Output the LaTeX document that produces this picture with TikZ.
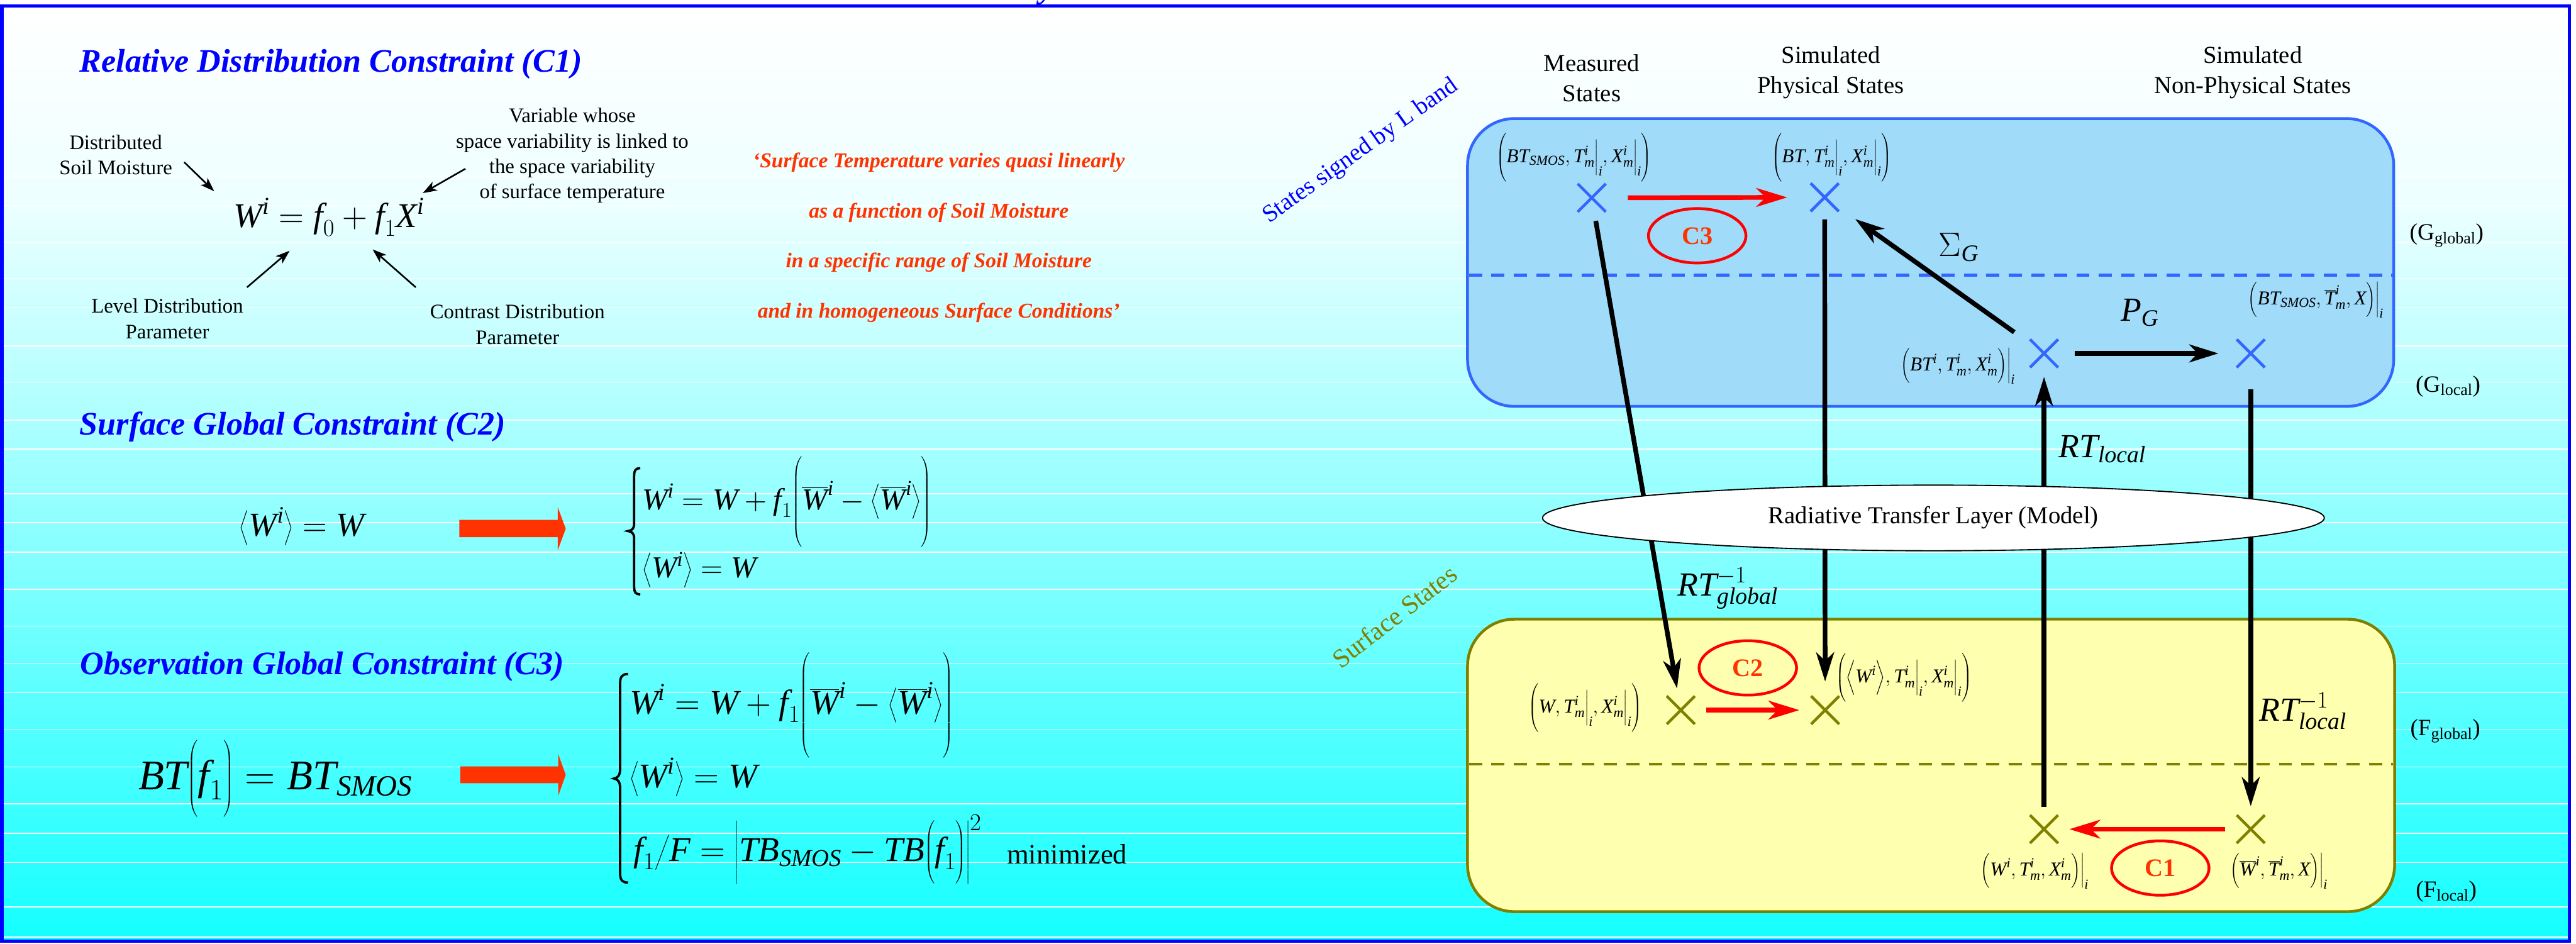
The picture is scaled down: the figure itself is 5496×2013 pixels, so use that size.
\RequirePackage{fix-cm}
\documentclass[tikz,border=0pt]{standalone}
\usepackage{amsmath}
\usepackage{fontspec}
\setmainfont{Liberation Serif}
\usetikzlibrary{arrows.meta,shapes.geometric,shapes.misc}
\definecolor{ttlblue}{RGB}{0,0,255}
\definecolor{qred}{RGB}{255,51,0}
\definecolor{boxblue}{RGB}{160,219,250}
\definecolor{edgeblue}{RGB}{51,102,255}
\definecolor{boxyel}{RGB}{255,255,176}
\definecolor{olivec}{RGB}{128,128,0}
\definecolor{cyA}{RGB}{238,255,255}
\definecolor{cyB}{RGB}{145,255,255}
\definecolor{cyC}{RGB}{20,255,255}
\newcommand{\mv}[1]{\text{\itshape #1}}
\newcommand{\fs}[2]{\fontsize{#1}{#2}\selectfont}
\tikzset{
  every node/.style={inner sep=0pt},
  ttl/.style={anchor=base west, text=ttlblue, font=\fs{70}{84}\bfseries\itshape},
  notetxt/.style={align=center, font=\fs{44}{54}},
  quotetxt/.style={align=center, text=qred, font=\fs{45}{107}\bfseries\itshape},
  thinarr/.style={line width=3.5pt, -{Stealth[length=30pt,width=21pt,inset=8pt]}},
  blockarr/.style={fill=qred},
  hdr/.style={align=center, font=\fs{52}{64}},
  gboxst/.style={draw=edgeblue, fill=boxblue, line width=6pt, rounded corners=100pt, minimum width=1976pt, minimum height=614pt},
  fboxst/.style={draw=olivec, fill=boxyel, line width=6pt, rounded corners=100pt, minimum width=1978pt, minimum height=624pt},
  xg/.style={draw=edgeblue, cross out, line width=6pt, minimum size=54pt},
  xf/.style={draw=olivec, cross out, line width=6pt, minimum size=54pt},
  lbl/.style={font=\fs{42}{50}},
  opl/.style={font=\fs{72}{86}},
  blk/.style={draw=black, line width=10pt, -{Stealth[length=62pt,width=38pt,inset=18pt]}},
  redarr/.style={draw=red, line width=10pt, -{Stealth[length=66pt,width=40pt,inset=20pt]}},
  cell/.style={ellipse, draw=red, line width=6pt, minimum width=208pt, minimum height=116pt, text=qred, font=\fs{54}{64}\bfseries},
  sidelbl/.style={font=\fs{50}{60}},
  bracest/.style={line width=5pt},
}
\begin{document}
\begin{tikzpicture}[x=1pt,y=-1pt]
% background
\path[use as bounding box, fill=white] (0,0) rectangle (5496,2013);
\shade[top color=white, bottom color=cyA] (4,13) rectangle (5482,420);
\shade[top color=cyA, middle color=cyB, bottom color=cyC] (4,420) rectangle (5482,2008);
\foreach \yy in {376,439,517,594,657,738,815,896,958,1053,1115,1178,1257,1336,1415,1478,1557,1636,1715,1778,1840,1935,1999}
  \draw[white, line width=2pt] (8,\yy) -- (5478,\yy);
\node[anchor=base west, text=ttlblue, font=\fs{70}{84}\bfseries\itshape] (cut) at (2218,-5) {y};
\draw[ttlblue, line width=7pt] (4,13) rectangle (5482,2008);

% ---------- C1 ----------
\node[ttl] (t1) at (170,153) {Relative Distribution Constraint (C1)};
\node[notetxt] (n1) at (247,330) {Distributed\\Soil Moisture};
\node[notetxt] (n2) at (1221,332) {Variable whose\\space variability is linked to\\the space variability\\of surface temperature};
\node[notetxt] (n3) at (357,680) {Level Distribution\\Parameter};
\node[notetxt] (n4) at (1104,692) {Contrast Distribution\\Parameter};
\node[anchor=base west, font=\fs{74}{86}] (eq1) at (498,485) {$\mv{W}^{\mv{i}} = \mv{f}_{0} + \mv{f}_{1}\mv{X}^{\mv{i}}$};
\coordinate (a1s) at (393,346); \coordinate (a1e) at (457,408);
\coordinate (a2s) at (993,360); \coordinate (a2e) at (902,412);
\coordinate (a3s) at (527,613); \coordinate (a3e) at (618,535);
\coordinate (a4s) at (887,613); \coordinate (a4e) at (795,532);
\draw[thinarr] (a1s) -- (a1e);
\draw[thinarr] (a2s) -- (a2e);
\draw[thinarr] (a3s) -- (a3e);
\draw[thinarr] (a4s) -- (a4e);
\node[quotetxt] (q) at (2003,507) {`Surface Temperature varies quasi linearly\\as a function of Soil Moisture\\in a specific range of Soil Moisture\\and in homogeneous Surface Conditions'};

% ---------- C2 ----------
\node[ttl] (t2) at (170,928) {Surface Global Constraint (C2)};
\node[anchor=base west, font=\fs{72}{86}] (eq2) at (511,1144) {$\bigg\langle \mv{W}^{\mv{i}}\bigg\rangle = \mv{W}$};
\fill[blockarr] (980,1109) -- (1190,1109) -- (1190,1082) -- (1207,1128) -- (1190,1174) -- (1190,1146) -- (980,1146) -- cycle;
\draw[bracest] (1366,999) .. controls (1356,999) and (1353,1003) .. (1353,1015) -- (1353,1117) .. controls (1353,1128) and (1348,1132) .. (1340,1133) .. controls (1348,1134) and (1353,1138) .. (1353,1149) -- (1353,1252) .. controls (1353,1264) and (1356,1268) .. (1366,1268);
\node[anchor=base west, font=\fs{65}{78}] (s2a) at (1370,1087) {$\mv{W}^{\mv{i}} = \mv{W} + \mv{f}_{1}\Bigg(\overline{\mv{W}}^{\mv{i}} - \bigg\langle\overline{\mv{W}}^{\mv{i}}\bigg\rangle\Bigg)$};
\node[anchor=base west, font=\fs{65}{78}] (s2b) at (1370,1233) {$\bigg\langle\mv{W}^{\mv{i}}\bigg\rangle = \mv{W}$};

% ---------- C3 ----------
\node[ttl] (t3) at (171,1439) {Observation Global Constraint (C3)};
\node[anchor=base west, font=\fs{90}{108}] (eq3) at (295,1684) {$\mv{BT}\Big(\mv{f}_{1}\Big) = \mv{BT}_{\mv{SMOS}}$};
\fill[blockarr] (982,1635) -- (1191,1635) -- (1191,1609) -- (1207,1653) -- (1191,1698) -- (1191,1671) -- (982,1671) -- cycle;
\draw[bracest] (1340,1438) .. controls (1328,1438) and (1323,1443) .. (1323,1458) -- (1323,1641) .. controls (1323,1654) and (1318,1660) .. (1310,1661) .. controls (1318,1662) and (1323,1668) .. (1323,1681) -- (1323,1863) .. controls (1323,1878) and (1328,1883) .. (1340,1883);
\node[anchor=base west, font=\fs{74}{88}] (s3a) at (1343,1523) {$\mv{W}^{\mv{i}} = \mv{W} + \mv{f}_{1}\Bigg(\overline{\mv{W}}^{\mv{i}} - \bigg\langle\overline{\mv{W}}^{\mv{i}}\bigg\rangle\Bigg)$};
\node[anchor=base west, font=\fs{74}{88}] (s3b) at (1343,1680) {$\bigg\langle\mv{W}^{\mv{i}}\bigg\rangle = \mv{W}$};
\node[anchor=base west, font=\fs{74}{88}] (s3c) at (1352,1837) {$\mv{f}_{1}\Big/\mv{F} = \Big|\mv{TB}_{\mv{SMOS}} - \mv{TB}\Big(\mv{f}_{1}\Big)\Big|^{2}$};
\node[anchor=base west, font=\fs{60}{72}] (mini) at (2148,1843) {minimized};

% ---------- right diagram ----------
\node[rotate=35.4, text=ttlblue, font=\fs{52}{62}] (slb) at (2903,323) {States signed by L band};
\node[rotate=37.7, text=olivec, font=\fs{56}{66}] (sss) at (2975,1315) {Surface States};
\node[hdr] (h1) at (3396,167) {Measured\\States};
\node[hdr] (h2) at (3906,155) {Simulated\\Physical States};
\node[hdr] (h3) at (4806,155) {Simulated\\Non-Physical States};

\node[gboxst] (G) at (4119,560) {};
\node[fboxst] (F) at (4120,1633) {};
\draw[edgeblue, line width=6pt, dash pattern=on 28pt off 20pt] (3134,587) -- (5104,587);
\draw[olivec, line width=6pt, dash pattern=on 28pt off 20pt] (3134,1630) -- (5106,1630);

\node[xg] (mG) at (3396,422) {};
\node[xg] (pG) at (3893,421) {};
\node[xg] (lG) at (4361,754) {};
\node[xg] (nG) at (4802,754) {};
\node[xf] (mF) at (3586,1515) {};
\node[xf] (pF) at (3894,1515) {};
\node[xf] (lF) at (4361,1769) {};
\node[xf] (nF) at (4802,1769) {};

% black connectors
\draw[blk, shorten <=50pt, shorten >=47pt] (mG.center) -- (mF.center);
\draw[blk, shorten <=47pt, shorten >=61pt] (pG.center) -- (pF.center);
\draw[blk, shorten <=78pt, shorten >=80pt] (lG.center) -- (pG.center);
\draw[blk, shorten <=66pt, shorten >=69pt] (lG.center) -- (nG.center);
\draw[blk, shorten <=47pt, shorten >=50pt] (lF.center) -- (lG.center);
\draw[blk, shorten <=76pt, shorten >=49pt] (nG.center) -- (nF.center);

\node[ellipse, draw=black, line width=2.5pt, fill=white, minimum width=1668pt, minimum height=140pt, font=\fs{52}{62}] (rtl) at (4125,1105) {Radiative Transfer Layer (Model)};

% red connectors
\draw[redarr, shorten <=77pt, shorten >=80pt] (mG.center) -- (pG.center);
\draw[redarr, shorten <=54pt, shorten >=55pt] (mF.center) -- (pF.center);
\draw[redarr, shorten <=55pt, shorten >=54pt] (nF.center) -- (lF.center);
\node[cell] (c3) at (3621,503) {C3};
\node[cell] (c2) at (3729,1425) {C2};
\node[cell] (c1) at (4609,1852) {C1};

% state labels
\node[lbl] (L1) at (3358,336) {$\bigg(\mv{BT}_{\mv{SMOS}}, \mv{T}^{\mv{i}}_{\mv{m}}\Big|_{\mv{i}}, \mv{X}^{\mv{i}}_{\mv{m}}\Big|_{\mv{i}}\bigg)$};
\node[lbl] (L2) at (3908,336) {$\bigg(\mv{BT}, \mv{T}^{\mv{i}}_{\mv{m}}\Big|_{\mv{i}}, \mv{X}^{\mv{i}}_{\mv{m}}\Big|_{\mv{i}}\bigg)$};
\node[lbl] (L3) at (4177,781) {$\Big(\mv{BT}^{\mv{i}}, \mv{T}^{\mv{i}}_{\mv{m}}, \mv{X}^{\mv{i}}_{\mv{m}}\Big)\Big|_{\mv{i}}$};
\node[lbl] (L4) at (4941,640) {$\Big(\mv{BT}_{\mv{SMOS}}, \overline{\mv{T}}^{\mv{i}}_{\mv{m}}, \mv{X}\Big)\Big|_{\mv{i}}$};
\node[lbl] (L5) at (3382,1510) {$\bigg(\mv{W}, \mv{T}^{\mv{i}}_{\mv{m}}\Big|_{\mv{i}}, \mv{X}^{\mv{i}}_{\mv{m}}\Big|_{\mv{i}}\bigg)$};
\node[lbl] (L6) at (4062,1446) {$\bigg(\Big\langle\mv{W}^{\mv{i}}\Big\rangle, \mv{T}^{\mv{i}}_{\mv{m}}\Big|_{\mv{i}}, \mv{X}^{\mv{i}}_{\mv{m}}\Big|_{\mv{i}}\bigg)$};
\node[lbl] (L7) at (4341,1858) {$\Big(\mv{W}^{\mv{i}}, \mv{T}^{\mv{i}}_{\mv{m}}, \mv{X}^{\mv{i}}_{\mv{m}}\Big)\Big|_{\mv{i}}$};
\node[lbl] (L8) at (4862,1858) {$\Big(\overline{\mv{W}}^{\mv{i}}, \overline{\mv{T}}^{\mv{i}}_{\mv{m}}, \mv{X}\Big)\Big|_{\mv{i}}$};

% operator labels
\node[opl] (oS) at (4179,528) {$\Sigma_{\mv{G}}$};
\node[opl] (oP) at (4565,667) {$\mv{P}_{\mv{G}}$};
\node[opl] (oRg) at (3686,1255) {$\mv{RT}^{-1}_{\mv{global}}$};
\node[opl] (oRl) at (4485,958) {$\mv{RT}_{\mv{local}}$};
\node[opl] (oRil) at (4913,1517) {$\mv{RT}^{-1}_{\mv{local}}$};

% level labels
\node[sidelbl] (gg) at (5220,502) {(G$_{\text{global}}$)};
\node[sidelbl] (gl) at (5223,824) {(G$_{\text{local}}$)};
\node[sidelbl] (fg) at (5217,1560) {(F$_{\text{global}}$)};
\node[sidelbl] (fl) at (5219,1902) {(F$_{\text{local}}$)};
\end{tikzpicture}
\end{document}
